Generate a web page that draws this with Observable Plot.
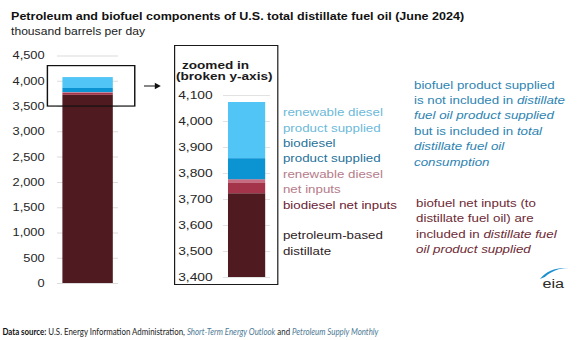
<!DOCTYPE html>
<html>
<head>
<meta charset="utf-8">
<script src="https://cdn.jsdelivr.net/npm/d3@7"></script>
<script src="https://cdn.jsdelivr.net/npm/@observablehq/plot@0.6"></script>
<style>
  html, body { margin: 0; padding: 0; background: #fff; }
  body { width: 578px; height: 340px; overflow: hidden; position: relative; font-family: "Liberation Sans", Arial, sans-serif; }
  #stage { position: absolute; left: 0; top: 0; width: 482px; height: 340px; transform: scaleX(1.2); transform-origin: 0 0; }
  .abs { position: absolute; white-space: nowrap; }
  #title { left: 9.2px; top: 11.5px; font-size: 10.45px; font-weight: bold; line-height: 1; color: #111; }
  #subtitle { left: 9.2px; top: 26.5px; font-size: 10.1px; line-height: 1; color: #1a1a1a; }
  #zoomBox { left: 145px; top: 45px; width: 86.7px; height: 240px; border: 1.4px solid #1a1a1a; box-sizing: border-box; }
  .ztitle { font-size: 11.3px; font-weight: bold; line-height: 1; color: #1a1a1a; }
  #labels { left: 235.8px; top: 105.1px; font-size: 11.1px; line-height: 15.4px; }
  .note { font-size: 11.1px; line-height: 15.4px; }
  #footer { left: 1.7px; top: 327px; font-family: Lato, "Open Sans", sans-serif; font-size: 9px; line-height: 1; color: #222; transform-origin: 0 0; }
  #footer b { color: #111; }
  #footer i { color: #4d7a95; }
</style>
</head>
<body>
<div id="stage">
  <div id="title" class="abs">Petroleum and biofuel components of U.S. total distillate fuel oil (June 2024)</div>
  <div id="subtitle" class="abs">thousand barrels per day</div>
  <div id="leftChart" class="abs" style="left:0;top:40px;"></div>
  <svg class="abs" style="left:118px;top:81px;" width="18" height="10">
    <line x1="2" y1="5" x2="12" y2="5" stroke="#111" stroke-width="1.2"/>
    <path d="M11,1.8 L16,5 L11,8.2 Z" fill="#111"/>
  </svg>
  <div id="zoomChart" class="abs" style="left:145px;top:45px;"></div>
  <div id="zoomBox" class="abs"></div>
  <div class="abs ztitle" style="left:151.7px;top:59.5px;">zoomed in</div>
  <div class="abs ztitle" style="left:146.7px;top:71.2px;">(broken y-axis)</div>
  <div id="labels" class="abs"></div>
  <div class="abs note" style="left:345px;top:77.5px;color:#2e84b2;">biofuel product supplied<br>is not included in <i>distillate</i><br><i>fuel oil product supplied</i><br>but is included in <i>total</i><br><i>distillate fuel oil</i><br><i>consumption</i></div>
  <div class="abs note" style="left:346.7px;top:195.8px;color:#6d2a35;">biofuel net inputs (to<br>distillate fuel oil) are<br>included in <i>distillate fuel</i><br><i>oil product supplied</i></div>
  <svg class="abs" style="left:448px;top:264px;" width="32" height="28">
    <path d="M2,15 C8,5 20,2 29,5 C24,3 14,4 6,13 Z" fill="#1a8fd0"/>
    <text x="4" y="24" font-family="Liberation Sans, Arial, sans-serif" font-size="13.5" fill="#2b2b2b">eia</text>
  </svg>
  <div id="footer" class="abs"><b>Data source:</b> U.S. Energy Information Administration, <i>Short-Term Energy Outlook</i> and <i>Petroleum Supply Monthly</i></div>
</div>
<script>
// ---- data ----
const month = "June 2024";
const components = [
  "petroleum-based distillate",
  "biodiesel net inputs",
  "renewable diesel net inputs",
  "biodiesel product supplied",
  "renewable diesel product supplied"
];
const values = [3722, 42, 12, 81, 216];
const leftTicks = [0, 500, 1000, 1500, 2000, 2500, 3000, 3500, 4000, 4500];
const zoomTicks = [3400, 3500, 3600, 3700, 3800, 3900, 4000, 4100];
const zoomBoxRange = [3500, 4300];

// label text (legend) in display order (top to bottom)
const labelLines = [
  ["renewable diesel", "product supplied"],
  ["biodiesel", "product supplied"],
  ["renewable diesel", "net inputs"],
  ["biodiesel net inputs"],
  [""],
  ["petroleum-based", "distillate"]
];
const labelKeys = [
  "renewable diesel product supplied",
  "biodiesel product supplied",
  "renewable diesel net inputs",
  "biodiesel net inputs",
  null,
  "petroleum-based distillate"
];

// ---- styles ----
const fills = ["#4f1a20", "#a3344a", "#c86b80", "#0b93d2", "#50c5f6"];
const textColors = {
  "petroleum-based distillate": "#2e1b1d",
  "biodiesel net inputs": "#6b2231",
  "renewable diesel net inputs": "#b57b89",
  "biodiesel product supplied": "#1f7199",
  "renewable diesel product supplied": "#6cb9d9"
};

const rows = components.map((c, i) => ({month, component: c, value: values[i]}));
const fmt = d3.format(",");
const font = "'Liberation Sans', Arial, sans-serif";

const left = Plot.plot({
  width: 140, height: 255,
  marginLeft: 47.5, marginRight: 41.7, marginTop: 15.5, marginBottom: 12,
  x: {domain: [month], padding: 0.089, axis: null},
  y: {domain: [0, 4500]},
  color: {domain: components, range: fills},
  style: {fontFamily: font, fontSize: "10.7px", color: "#262626", background: "transparent", overflow: "visible"},
  marks: [
    Plot.gridY(leftTicks, {stroke: "#dcdcdc", strokeOpacity: 1, strokeWidth: 1}),
    Plot.axisY(leftTicks, {tickSize: 0, tickPadding: 10.8, tickFormat: fmt, label: null, fill: "#262626"}),
    Plot.barY(rows, {x: "month", y: "value", fill: "component"}),
    Plot.barY([{month, y1: zoomBoxRange[0], y2: zoomBoxRange[1]}], {
      x: "month", y1: "y1", y2: "y2", fill: "none", stroke: "#111", strokeWidth: 1.2,
      insetLeft: -12.5, insetRight: -18.3
    })
  ]
});
document.getElementById("leftChart").appendChild(left);

const zoom = Plot.plot({
  width: 86.7, height: 240,
  marginLeft: 40.8, marginRight: 6.7, marginTop: 50, marginBottom: 8,
  x: {domain: [month], padding: 0.1057, axis: null},
  y: {domain: [3400, 4100]},
  color: {domain: components, range: fills},
  style: {fontFamily: font, fontSize: "11.5px", color: "#262626", background: "transparent", overflow: "visible"},
  marks: [
    Plot.gridY(zoomTicks, {stroke: "#e2e2e2", strokeOpacity: 1, strokeWidth: 1}),
    Plot.axisY(zoomTicks, {tickSize: 0, tickPadding: 9.1, tickFormat: fmt, label: null, fill: "#262626"}),
    Plot.barY(rows, {x: "month", y: "value", fill: "component", clip: true})
  ]
});
document.getElementById("zoomChart").appendChild(zoom);

const lab = document.getElementById("labels");
labelLines.forEach((lines, i) => {
  const k = labelKeys[i];
  lines.forEach(t => {
    const d = document.createElement("div");
    d.textContent = t || "\u00a0";
    if (k) d.style.color = textColors[k];
    lab.appendChild(d);
  });
});

// fit footer to its width in the reference
const f = document.getElementById("footer");
const target = 376 / 1.2;
const w = f.getBoundingClientRect().width / 1.2;
f.style.transform = `scaleX(${target / w})`;
</script>
</body>
</html>
